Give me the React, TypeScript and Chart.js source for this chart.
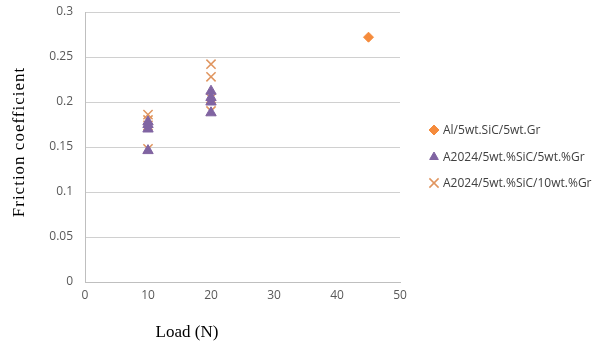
import React, { useEffect, useRef } from "react";
import { Chart, registerables } from "chart.js";
import { drawPoint } from "chart.js/helpers";

Chart.register(...registerables);

const seriesNames = [
  "Al/5wt.SiC/5wt.Gr",
  "A2024/5wt.%SiC/5wt.%Gr",
  "A2024/5wt.%SiC/10wt.%Gr",
];
const s1Load = [45];
const s1Friction = [0.272];
const s2Load = [10, 10, 10, 10, 20, 20, 20, 20];
const s2Friction = [0.146, 0.17, 0.175, 0.178, 0.188, 0.2, 0.205, 0.212];
const s3Load = [10, 10, 10, 10, 20, 20, 20, 20];
const s3Friction = [0.148, 0.174, 0.18, 0.186, 0.19, 0.204, 0.228, 0.242];

const xTitle = "Load (N)";
const yTitle = "Friction coefficient";

const colors = ["#F58B3C", "#8064A2", "#E0955F"];
const styles = ["rectRot", "triangle", "crossRot"];
const radii = [5, 6, 6.5];
const borders = [1, 1, 1.5];

const toPts = (xs: number[], ys: number[]) => xs.map((x, i) => ({ x, y: ys[i] }));

export default function App() {
  const ref = useRef<HTMLCanvasElement>(null);
  useEffect(() => {
    document.body.style.margin = "0";
    const sans = '"Open Sans", sans-serif';
    const serif = '"Liberation Serif", "Times New Roman", serif';
    const extras = {
      id: "extras",
      afterDraw(chart: any) {
        const ctx = chart.ctx;
        ctx.save();
        ctx.fillStyle = "#000";
        ctx.font = `17px ${serif}`;
        ctx.textAlign = "center";
        ctx.textBaseline = "middle";
        ctx.fillText(xTitle, 187, 333);
        ctx.save();
        ctx.translate(20, 142);
        ctx.rotate(-Math.PI / 2);
        (ctx as any).letterSpacing = "1px";
        ctx.fillText(yTitle, 0, 0);
        ctx.restore();
        const rows = [130, 157, 183];
        ctx.font = `12px ${sans}`;
        ctx.textAlign = "left";
        seriesNames.forEach((name, i) => {
          ctx.fillStyle = colors[i];
          ctx.strokeStyle = colors[i];
          ctx.lineWidth = borders[i];
          drawPoint(ctx, { pointStyle: styles[i], radius: i === 1 ? 5 : radii[i], rotation: 0, borderWidth: borders[i] }, 434, rows[i]);
          ctx.fillStyle = "#404040";
          ctx.fillText(name, 443, rows[i] + 1);
        });
        ctx.restore();
      },
    };
    const chart = new Chart(ref.current!, {
      type: "scatter",
      data: {
        datasets: [0, 1, 2].map((i) => ({
          label: seriesNames[i],
          data: [toPts(s1Load, s1Friction), toPts(s2Load, s2Friction), toPts(s3Load, s3Friction)][i],
          pointStyle: styles[i] as any,
          pointRadius: radii[i],
          pointBackgroundColor: colors[i],
          pointBorderColor: colors[i],
          pointBorderWidth: borders[i],
        })),
      },
      options: {
        animation: false,
        responsive: false,
        events: [],
        layout: { padding: { left: 0, right: 211, top: 12, bottom: 0 } },
        plugins: { legend: { display: false }, tooltip: { enabled: false } },
        scales: {
          x: {
            type: "linear",
            min: 0,
            max: 50,
            ticks: { stepSize: 10, color: "#595959", font: { family: sans, size: 12 }, padding: 6 },
            grid: { display: false, drawTicks: false },
            border: { display: true, color: "#BFBFBF", width: 1 },
            afterFit: (s: any) => { s.height = 67; s.paddingLeft = 0; s.paddingRight = 0; },
          },
          y: {
            min: 0,
            max: 0.3,
            ticks: {
              stepSize: 0.05,
              color: "#595959",
              font: { family: sans, size: 12 },
              padding: 12,
              callback: (v: any) => String(Math.round(Number(v) * 100) / 100),
            },
            grid: { color: "#D0D0D0", drawTicks: false },
            border: { display: true, color: "#BFBFBF", width: 1 },
            afterFit: (s: any) => { s.width = 85; s.paddingTop = 0; s.paddingBottom = 0; },
          },
        },
      },
      plugins: [extras],
    });
    return () => chart.destroy();
  }, []);
  return (
    <div style={{ width: 611, height: 349 }}>
      <canvas ref={ref} width={611} height={349} />
    </div>
  );
}
